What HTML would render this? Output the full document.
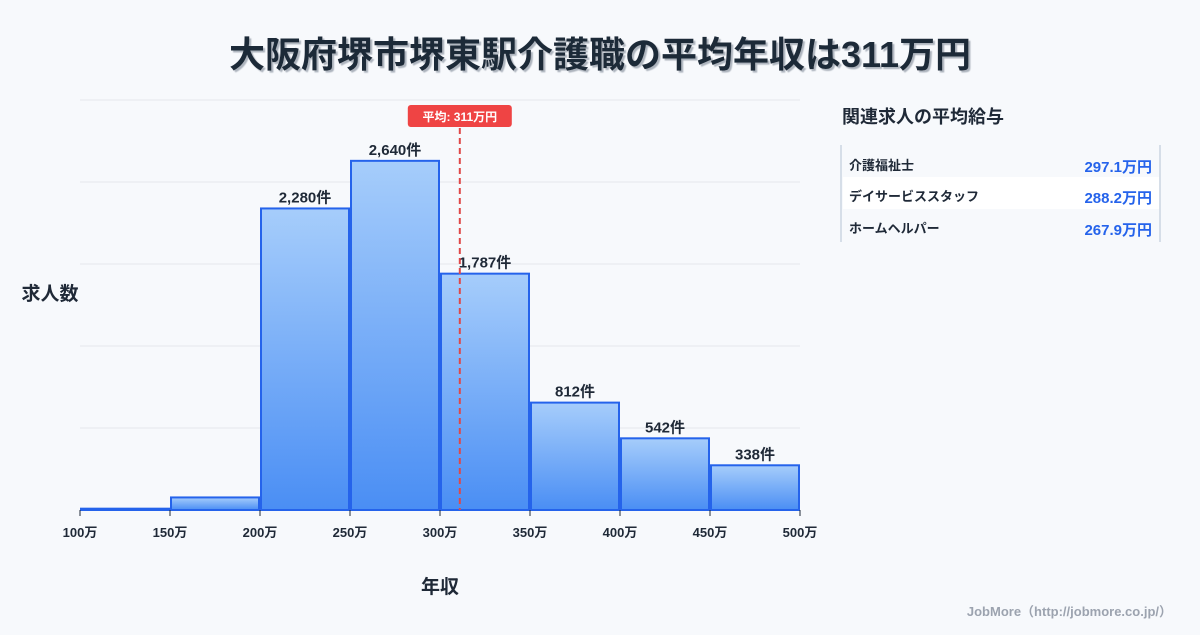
<!DOCTYPE html>
<html><head><meta charset="utf-8"><style>
body{margin:0;background:#f7f9fc;font-family:"Liberation Sans","Noto Sans CJK JP",sans-serif;}
svg text{font-family:"Liberation Sans","Noto Sans CJK JP",sans-serif;}
</style></head><body>
<svg id="c" width="1200" height="630" viewBox="0 0 1200 630" xmlns="http://www.w3.org/2000/svg">
<defs>
<linearGradient id="g" x1="0" y1="0" x2="0" y2="1"><stop offset="0" stop-color="#a6cdfb"/><stop offset="1" stop-color="#4a8ef4"/></linearGradient>
<filter id="sh"><feDropShadow dx="2" dy="2" stdDeviation="0.5" flood-color="#9aa3ad" flood-opacity="0.8"/></filter>
</defs>
<rect width="1200" height="630" fill="#f7f9fc"/>
<text x="600" y="67" text-anchor="middle" font-size="36" font-weight="700" fill="#1f2937" filter="url(#sh)">大阪府堺市堺東駅介護職の平均年収は311万円</text>
<g id="grid"></g>
<g id="bars"></g>
<g id="xt"></g>
<text x="50" y="300" text-anchor="middle" font-size="19" font-weight="700" fill="#1f2937">求人数</text>
<text x="440" y="593" text-anchor="middle" font-size="19" font-weight="700" fill="#1f2937">年収</text>
<g id="avg"></g>
<text x="842" y="123" font-size="18" font-weight="700" fill="#1f2937">関連求人の平均給与</text>
<g>
<line x1="841" y1="145" x2="841" y2="242" stroke="#cbd5e1" stroke-width="1.5"/>
<line x1="1160" y1="145" x2="1160" y2="242" stroke="#cbd5e1" stroke-width="1.5"/>
<rect x="843" y="177" width="316" height="32" fill="#ffffff"/>
<text x="849" y="170" font-size="13" font-weight="700" fill="#1f2937">介護福祉士</text>
<text x="1152" y="172" text-anchor="end" font-size="15" font-weight="700" fill="#2563eb">297.1万円</text>
<text x="849" y="201" font-size="13" font-weight="700" fill="#1f2937">デイサービススタッフ</text>
<text x="1152" y="203" text-anchor="end" font-size="15" font-weight="700" fill="#2563eb">288.2万円</text>
<text x="849" y="233" font-size="13" font-weight="700" fill="#1f2937">ホームヘルパー</text>
<text x="1152" y="235" text-anchor="end" font-size="15" font-weight="700" fill="#2563eb">267.9万円</text>
</g>
<text x="1172" y="616" text-anchor="end" font-size="13" font-weight="700" fill="#9ca3af">JobMore（http://jobmore.co.jp/）</text>
</svg>
<script>
const binEdges=[100,150,200,250,300,350,400,450,500];
const counts=[10,95,2280,2640,1787,812,542,338];
const countLabels=["","","2,280件","2,640件","1,787件","812件","542件","338件"];
const gridValues=[0,620,1240,1860,2480,3100];
const avgValue=311;
const NS="http://www.w3.org/2000/svg";
const X0=80,X1=800,Y0=510,Y1=100,XMIN=100,XMAX=500,YMAX=3100;
const xs=v=>X0+(v-XMIN)/(XMAX-XMIN)*(X1-X0);
const ys=v=>Y0-v/YMAX*(Y0-Y1);
function mk(t,a,p){const e=document.createElementNS(NS,t);for(const k in a)e.setAttribute(k,a[k]);p.appendChild(e);return e;}
const grid=document.getElementById('grid');
gridValues.forEach(v=>{
 const l=mk('line',{x1:X0,x2:X1,y1:ys(v),y2:ys(v),stroke:v===0?'#d1d5db':'#e5e7eb','stroke-width':1},grid);
 
 
});
const bars=document.getElementById('bars');
counts.forEach((c,i)=>{
 const x=xs(binEdges[i])+1,w=xs(binEdges[i+1])-xs(binEdges[i])-2,y=ys(c);
 const r=mk('rect',{x:x,y:y,width:w,height:Y0-y,fill:'url(#g)',stroke:'#2563eb','stroke-width':2},bars);
 
 
 if(countLabels[i]){
  const t=mk('text',{x:x+w/2,y:y-6,'text-anchor':'middle','font-size':15,'font-weight':700,fill:'#1f2937'},bars);
  t.textContent=countLabels[i];
  
  
 }
});
const xt=document.getElementById('xt');
binEdges.forEach(v=>{
 const tk=mk('line',{x1:xs(v),x2:xs(v),y1:Y0,y2:Y0+6,stroke:'#1f2937','stroke-width':1},xt);
 
 
 const t=mk('text',{x:xs(v),y:537,'text-anchor':'middle','font-size':13,'font-weight':700,fill:'#1f2937'},xt);
 t.textContent=v+'万';
 
 
});
const avg=document.getElementById('avg');
const ax=xs(avgValue);
const al=mk('line',{x1:ax,x2:ax,y1:128,y2:Y0,stroke:'#e04848','stroke-width':2,'stroke-dasharray':'6,4'},avg);


const ab=mk('rect',{x:ax-52,y:105,width:104,height:22,rx:3,fill:'#ef4444'},avg);


const at=mk('text',{x:ax,y:121,'text-anchor':'middle','font-size':12,'font-weight':700,fill:'#ffffff'},avg);
at.textContent='平均: '+avgValue+'万円';


</script>
</body></html>
